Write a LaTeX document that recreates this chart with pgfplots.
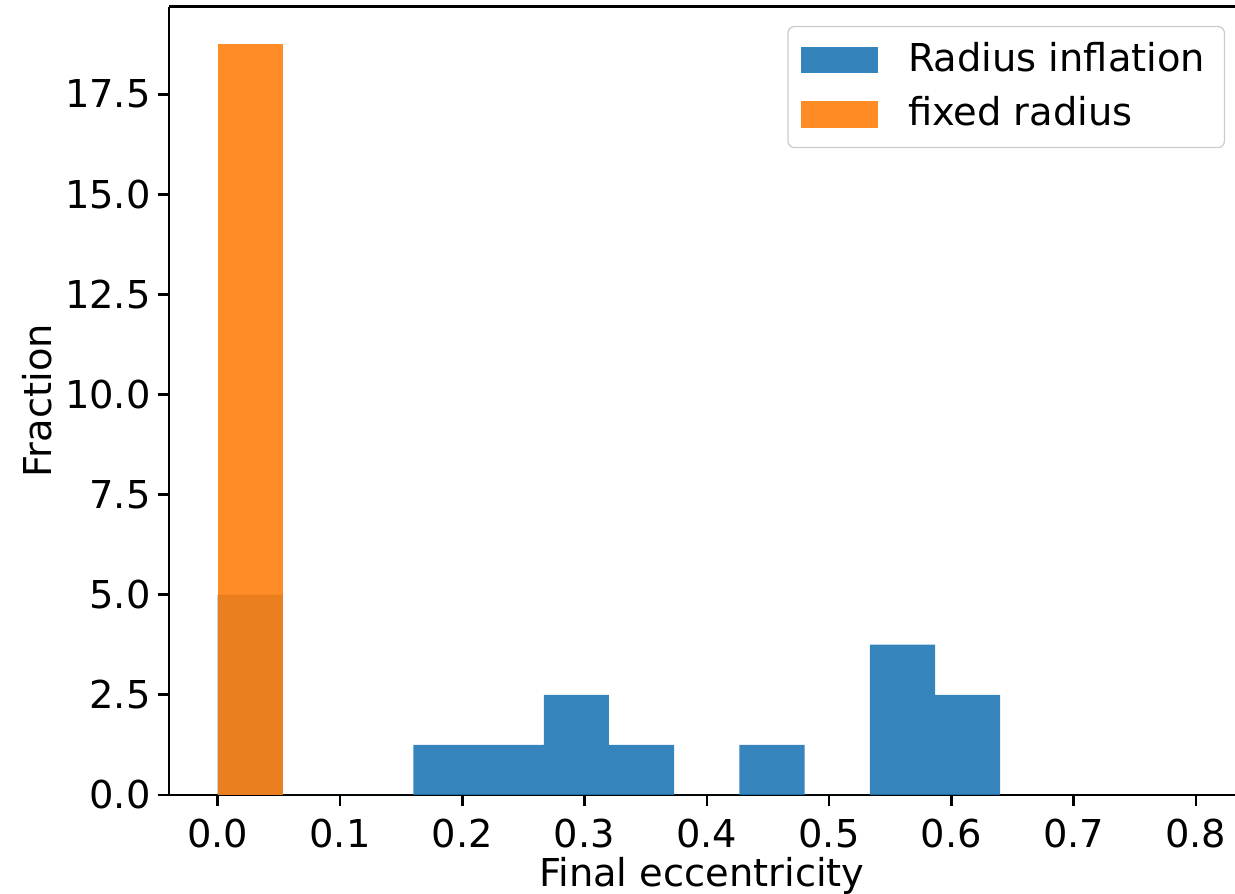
\documentclass[border=0pt]{standalone}
\usepackage{fontspec}
\setmainfont{DejaVu Sans}
\usepackage{pgfplots}
\pgfplotsset{compat=1.18}
\usetikzlibrary{calc}
\definecolor{mblue}{HTML}{1F77B4}
\definecolor{morange}{HTML}{FF7F0E}
\begin{document}
\fontsize{12pt}{14pt}\selectfont
\begin{tikzpicture}
\begin{axis}[
  name=ax,
  scale only axis,
  width=333.2pt, height=246.3pt,
  xmin=-0.04, xmax=0.832,
  ymin=0, ymax=19.6875,
  axis x line*=box, axis y line*=left,
  xtick pos=left, ytick pos=left,
  tick align=outside,
  major tick length=3.5pt,
  every tick/.style={black, line width=0.8pt},
  axis line style={black, line width=0.8pt},
  xtick={0,0.1,...,0.8},
  ytick={0,2.5,...,17.5},
  /pgf/number format/assume math mode=true,
  /pgf/number format/.cd, fixed, fixed zerofill, precision=1, /pgfplots/.cd,
  ticklabel style={font=\fontsize{12pt}{14pt}\selectfont},
  yticklabel style={xshift=2pt},
  xlabel={Final eccentricity},
  ylabel={Fraction},
  every axis x label/.style={at={(axis description cs:0.5,0)}, yshift=-25.2pt, anchor=center},
  every axis y label/.style={at={(axis description cs:0,0.5)}, xshift=-41.2pt, rotate=90, anchor=center},
  label style={font=\fontsize{12pt}{14pt}\selectfont},
  legend style={at={(axis description cs:1,1)}, xshift=-3.1pt, yshift=-6.0pt,
    anchor=north east, draw=black!20, rounded corners=2pt,
    font=\fontsize{12pt}{14pt}\selectfont, inner xsep=4pt, inner ysep=3pt,
    row sep=2pt},
  legend cell align=left,
  legend image code/.code={\fill[#1, sharp corners] (0pt,-4.2pt) rectangle (24pt,4.2pt);
    \path[draw=none, fill=none] (0pt,0pt) rectangle (31.5pt,0.1pt);},
]
\addplot[ybar interval, fill=mblue, draw=none, fill opacity=0.9] coordinates {
(0,5) (0.053333,0) (0.106667,0) (0.16,1.25) (0.213333,1.25) (0.266667,2.5)
(0.32,1.25) (0.373333,0) (0.426667,1.25) (0.48,0) (0.533333,3.75)
(0.586667,2.5) (0.64,0)};
\addlegendentry{Radius inflation}
\addplot[ybar interval, fill=morange, draw=none, fill opacity=0.9] coordinates {
(0,18.75) (0.053333,0)};
\addlegendentry{fixed radius}
\end{axis}
\pgfresetboundingbox
\useasboundingbox ($(ax.south west)+(-52.75pt,-30.9pt)$) rectangle ($(ax.north east)+(0pt,2.1pt)$);
\end{tikzpicture}
\end{document}
